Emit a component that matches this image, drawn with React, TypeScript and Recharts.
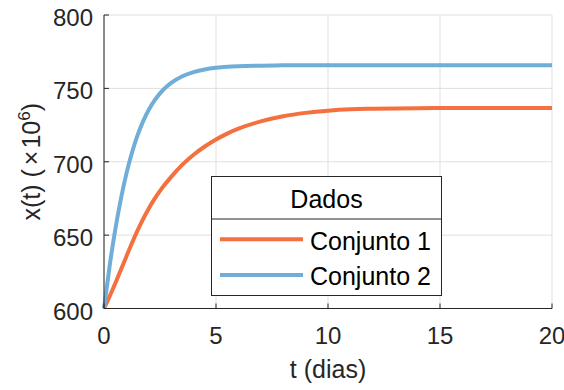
import { LineChart, Line, XAxis, YAxis, CartesianGrid, Legend, Label } from "recharts";

const FONT = '"Liberation Sans", Arial, Helvetica, sans-serif';
const AXIS = "#262626";

// time points (days)
const tValues = [0, 0.25, 0.5, 0.75, 1, 1.25, 1.5, 1.75, 2, 2.25, 2.5, 2.75, 3, 3.5, 4, 4.5, 5, 5.5, 6, 7, 8, 9, 10, 11, 12, 14, 16, 18, 20];
// Conjunto 1 (orange)
const conjunto1 = [600, 608.2, 617, 626.2, 635.5, 644.6, 653.2, 661.1, 668.2, 674.5, 680.1, 685.1, 689.7, 698, 704.8, 710.4, 715.2, 719.2, 722.5, 727.5, 731, 733.3, 734.8, 735.7, 736.1, 736.5, 736.6, 736.6, 736.6];
// Conjunto 2 (blue)
const conjunto2 = [600, 628.8, 653.5, 674.4, 691.9, 706.3, 718.1, 727.7, 735.4, 741.6, 746.6, 750.6, 753.8, 758.3, 761.1, 762.9, 764, 764.7, 765.1, 765.5, 765.7, 765.8, 765.8, 765.8, 765.8, 765.8, 765.8, 765.8, 765.8];

const xTicks = [0, 5, 10, 15, 20];
const yTicks = [600, 650, 700, 750, 800];
const seriesNames = ["Conjunto 1", "Conjunto 2"];
const seriesColors = ["#F4703E", "#70ADD8"];
const legendTitle = "Dados";

const data = tValues.map((t, i) => ({ t, c1: conjunto1[i], c2: conjunto2[i] }));

const XTick = ({ x, y, payload }: any) => (
  <text x={x} y={y + 40} textAnchor="middle" fontSize={24} fill={AXIS} fontFamily={FONT}>
    {payload.value}
  </text>
);

const YTick = ({ x, y, payload }: any) => (
  <text x={x} y={y + 11} textAnchor="end" fontSize={24} fill={AXIS} fontFamily={FONT}>
    {payload.value}
  </text>
);

const XLabel = ({ viewBox }: any) => {
  const vb = viewBox || { x: 104, y: 308.5, width: 448 };
  return (
    <text x={vb.x + vb.width / 2} y={vb.y + 69.5} textAnchor="middle" fontSize={25} fill={AXIS} fontFamily={FONT}>
      t (dias)
    </text>
  );
};

const YLabel = ({ viewBox }: any) => {
  const vb = viewBox || { y: 15, height: 293.5 };
  const cy = vb.y + vb.height / 2;
  return (
    <text transform={`translate(39.5, ${cy}) rotate(-90)`} textAnchor="middle" fontSize={25} fill={AXIS} fontFamily={FONT}>
      x(t) (<tspan dx={4}>×</tspan>
      <tspan dx={2}>10</tspan>
      <tspan dy={-10} fontSize={17}>6</tspan>
      <tspan dy={10}>)</tspan>
    </text>
  );
};

const renderLegend = (props: any) => {
  const items = props.payload && props.payload.length ? props.payload : seriesNames.map((n, i) => ({ value: n, color: seriesColors[i] }));
  return (
    <svg width={231} height={120} style={{ display: "block" }}>
      <rect x={0.5} y={0.5} width={230} height={119} fill="#fff" stroke={AXIS} strokeWidth={1} />
      <line x1={0} x2={231} y1={43} y2={43} stroke={AXIS} strokeWidth={1} />
      <text x={115.5} y={32.3} textAnchor="middle" fontSize={25} fill="#000" fontFamily={FONT}>
        {legendTitle}
      </text>
      {items.map((it: any, i: number) => (
        <g key={it.value}>
          <line x1={9} x2={92} y1={63.3 + i * 35.7} y2={63.3 + i * 35.7} stroke={it.color} strokeWidth={4} />
          <text x={99} y={74 + i * 35} fontSize={25} fill="#000" fontFamily={FONT}>
            {it.value}
          </text>
        </g>
      ))}
    </svg>
  );
};

export default function App() {
  return (
    <div style={{ position: "absolute", left: 0, top: 0, width: 564, height: 390, background: "#fff" }}>
      <LineChart width={564} height={390} data={data} margin={{ top: 15, right: 12, left: 0, bottom: 41.5 }}>
        <CartesianGrid stroke="#dfdfdf" strokeWidth={1} horizontalValues={yTicks} verticalValues={xTicks} />
        <XAxis
          dataKey="t"
          type="number"
          domain={[0, 20]}
          ticks={xTicks}
          height={40}
          tickSize={-5}
          tickMargin={0}
          axisLine={{ stroke: AXIS }}
          tickLine={{ stroke: AXIS }}
          tick={<XTick />}
        >
          <Label content={<XLabel />} />
        </XAxis>
        {/* box: top and right axes, ticks only */}
        <XAxis
          xAxisId="top"
          orientation="top"
          dataKey="t"
          type="number"
          domain={[0, 20]}
          ticks={xTicks}
          height={0}
          tickSize={-5}
          axisLine={{ stroke: AXIS }}
          tickLine={{ stroke: AXIS }}
          tick={false}
        />
        <YAxis
          type="number"
          domain={[600, 800]}
          ticks={yTicks}
          width={104}
          tickSize={-5}
          tickMargin={16}
          axisLine={{ stroke: AXIS }}
          tickLine={{ stroke: AXIS }}
          tick={<YTick />}
        >
          <Label content={<YLabel />} />
        </YAxis>
        <YAxis
          yAxisId="right"
          orientation="right"
          type="number"
          domain={[600, 800]}
          ticks={yTicks}
          width={0}
          tickSize={-5}
          axisLine={{ stroke: AXIS }}
          tickLine={{ stroke: AXIS }}
          tick={false}
        />
        <Line type="monotone" dataKey="c1" name={seriesNames[0]} stroke={seriesColors[0]} strokeWidth={4} dot={false} isAnimationActive={false} />
        <Line type="monotone" dataKey="c2" name={seriesNames[1]} stroke={seriesColors[1]} strokeWidth={4} dot={false} isAnimationActive={false} />
        <Legend
          layout="vertical"
          align="center"
          verticalAlign="middle"
          content={renderLegend}
          wrapperStyle={{ left: 211, top: 176, width: 231, height: 120 }}
        />
      </LineChart>
    </div>
  );
}
